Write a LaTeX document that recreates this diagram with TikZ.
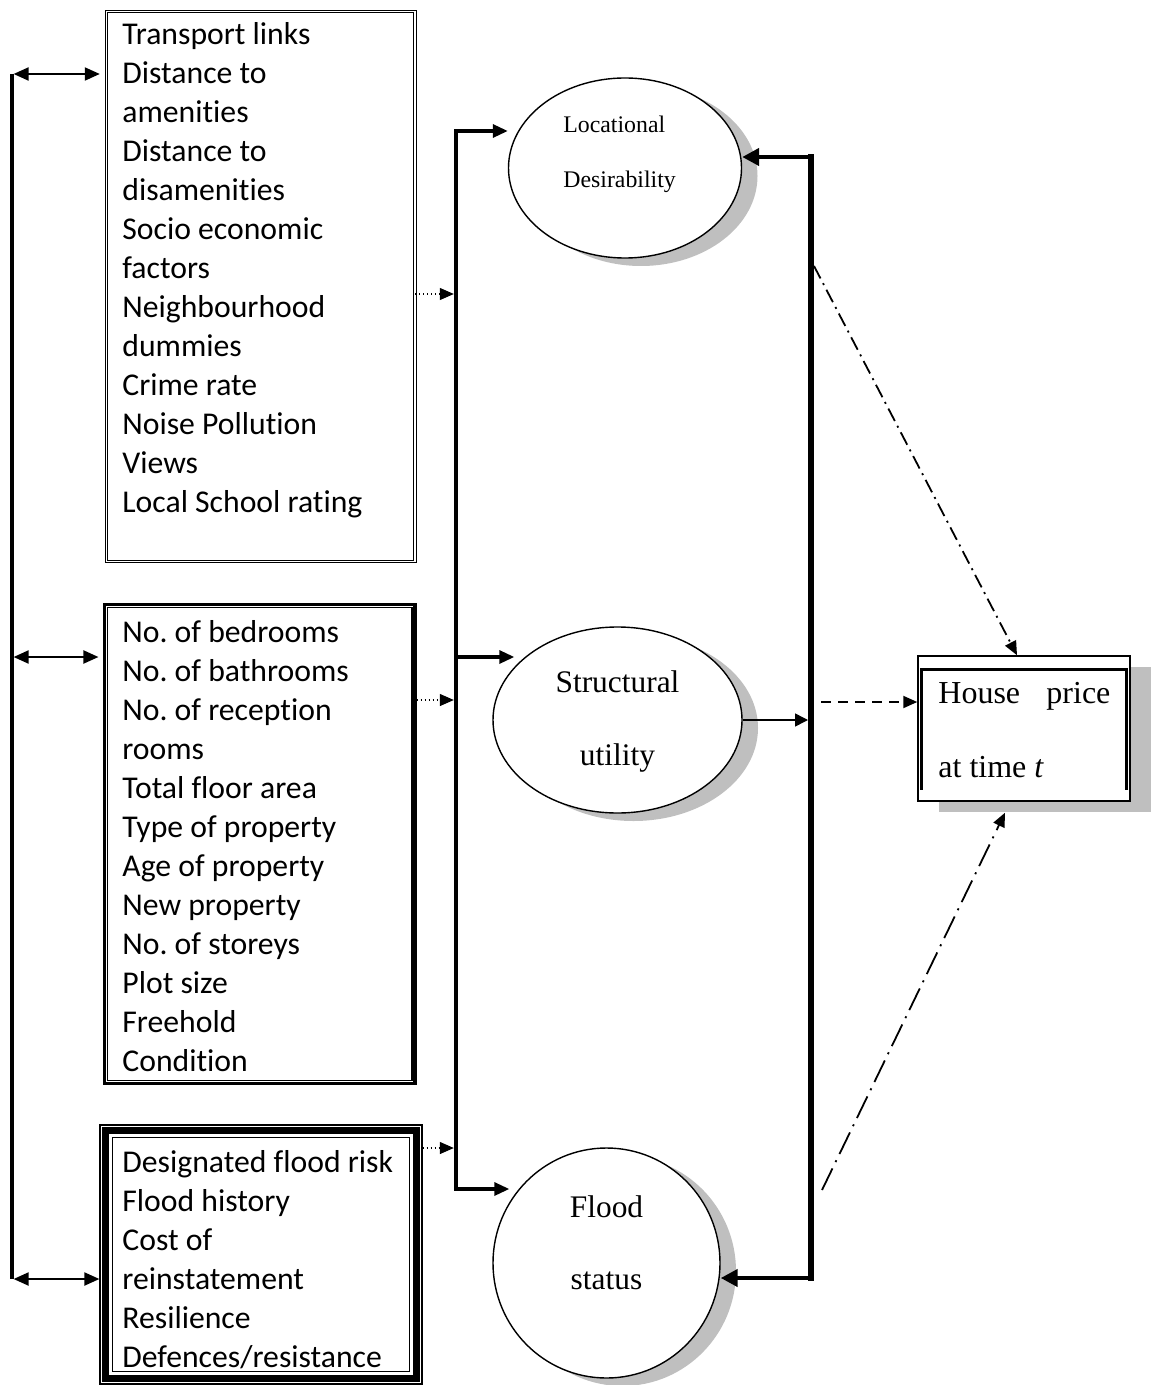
\documentclass[tikz,border=0pt]{standalone}
\usepackage{fontspec}
\setmainfont{Liberation Serif}
\newfontfamily\carlito[Ligatures={NoCommon}]{Carlito}
\usetikzlibrary{arrows.meta,shapes.geometric,shadows,calc}
\frenchspacing

\begin{document}
\begin{tikzpicture}[x=0.5pt, y=-0.5pt,
	listtext/.style={anchor=west, align=left, inner sep=0pt, font=\carlito\fontsize{15.85}{19.5}\selectfont},
	ovaltext/.style={align=center, inner sep=0pt, font=\fontsize{15.7}{18}\selectfont},
	oval/.style={ellipse, draw, line width=0.7pt, fill=white, inner sep=0pt,
		drop shadow={shadow xshift=8pt, shadow yshift=-4pt, fill=black!25, opacity=1}},
	twoway/.style={line width=1pt, {Triangle[length=7.5pt,width=6.5pt]}-{Triangle[length=7.5pt,width=6.5pt]}},
	feed/.style={line width=1.6pt, -{Triangle[length=7.5pt,width=6.5pt]}},
	backfeed/.style={line width=2.3pt, -{Triangle[length=8.5pt,width=8.5pt]}},
	dotfeed/.style={line width=0.6pt, dash pattern=on 0.6pt off 1.4pt, -{Triangle[length=7pt,width=6pt]}, shorten >=1.1pt},
	thinfeed/.style={line width=0.75pt, -{Triangle[length=6.5pt,width=6.5pt]}, shorten >=1.5pt}]
	
	\useasboundingbox (0,0) rectangle (1154,1385);
	
	\node[draw, double, double distance=0.8pt, line width=0.5pt, minimum width=154.2pt, minimum height=275pt, inner sep=0pt] (locbox) at (260.5,286.5) {};
	\node[listtext] (loctxt) at (122,270) {Transport links\\Distance to\\amenities\\Distance to\\disamenities\\Socio economic\\factors\\Neighbourhood\\dummies\\Crime rate\\Noise Pollution\\Views\\Local School rating};
	
	\node[draw, line width=1.65pt, minimum width=155.15pt, minimum height=239.5pt, inner sep=0pt] (strbox) at (259.85,844) {};
	\draw[line width=0.6pt] ($(strbox.north west)+(2.3pt,-2.3pt)$) rectangle ($(strbox.south east)+(-2.3pt,2.3pt)$);
	\node[listtext] (strtxt) at (122,846) {No. of bedrooms\\No. of bathrooms\\No. of reception\\rooms\\Total floor area\\Type of property\\Age of property\\New property\\No. of storeys\\Plot size\\Freehold\\Condition};
	
	\node[draw, line width=0.6pt, minimum width=161pt, minimum height=129.5pt, inner sep=0pt] (fldbox) at (261,1254.5) {};
	\draw[line width=3.2pt] ($(fldbox.north west)+(3.1pt,-3.1pt)$) rectangle ($(fldbox.south east)+(-3.1pt,3.1pt)$);
	\draw[line width=0.6pt] ($(fldbox.north west)+(6.6pt,-6.6pt)$) rectangle ($(fldbox.south east)+(-6.6pt,6.6pt)$);
	\node[listtext] (fldtxt) at (122,1259.5) {Designated flood risk\\Flood history\\Cost of\\reinstatement\\Resilience\\Defences/resistance};
	
	\node[oval, minimum width=116.5pt, minimum height=90pt] (locell) at (625,168) {};
	\node[anchor=west, align=left, inner sep=0pt, font=\fontsize{11.9}{13.8}\selectfont] (loclbl) at (563,154.5) {Locational\\[13.7pt]Desirability};
	\node[oval, minimum width=124.5pt, minimum height=93pt] (strell) at (617.5,720) {};
	\node[ovaltext] (strlbl) at (617.5,721.5) {Structural\\[18.5pt]utility};
	\node[oval, minimum width=113.5pt, minimum height=115pt] (fldell) at (606.5,1263) {};
	\node[ovaltext] (fldlbl) at (606.5,1243) {Flood\\[18pt]status};
	
	\node[draw, line width=0.75pt, fill=white, minimum width=106pt, minimum height=72.5pt, inner sep=0pt,
		drop shadow={shadow xshift=10.5pt, shadow yshift=-5.5pt, fill=black!25, opacity=1}] (hpbox) at (1024,728.5) {};
	\draw[line width=1.5pt] ($(hpbox.south west)+(2pt,6pt)$) |- ($(hpbox.north east)+(-2pt,-7pt)$) -- ($(hpbox.south east)+(-2pt,6pt)$);
	\node[anchor=west, align=left, inner sep=0pt, font=\fontsize{16}{18.5}\selectfont] (hptxt) at (938,730) {\makebox[86pt][s]{House price}\\[18.5pt]at time \textit{t}};
	
	\coordinate (ltop) at (12,74);
	\coordinate (lmid) at (12,657);
	\coordinate (lbot) at (12,1279);
	\draw[line width=1.6pt] (ltop) -- (lbot);
	\draw[twoway, shorten <=0.8pt, shorten >=3pt] (ltop) -- (ltop -| locbox.west);
	\draw[twoway, shorten <=0.8pt, shorten >=2.3pt] (lmid) -- (lmid -| strbox.west);
	\draw[twoway, shorten <=0.8pt] (lbot) -- (lbot -| fldbox.west);
	
	\coordinate (mtop) at (456,131);
	\coordinate (mmid) at (456,657);
	\coordinate (mbot) at (456,1189);
	\draw[line width=2.2pt, line cap=rect] (mtop) -- (mbot);
	\draw[feed] (mtop) -- (mtop -| locell.west);
	\draw[feed] (mmid) -- ($(mmid -| strell.west)+(11pt,0)$);
	\draw[feed] (mbot) -- ($(mbot -| fldell.west)+(8.5pt,0)$);
	
	\coordinate (mloc) at (456,294);
	\coordinate (mstr) at (456,700);
	\coordinate (mfld) at (456,1148);
	\draw[dotfeed] (mloc -| locbox.east) -- (mloc);
	\draw[dotfeed] (mstr -| strbox.east) -- (mstr);
	\draw[dotfeed] (mfld -| fldbox.east) -- (mfld);
	
	\coordinate (rtop) at (811,157);
	\coordinate (rbot) at (811,1278);
	\draw[line width=3pt, line cap=rect] (rtop) -- (rbot);
	\draw[backfeed] (rtop) -- (rtop -| locell.east);
	\draw[backfeed] (rbot) -- (rbot -| fldell.east);
	\draw[thinfeed] (strell.east) -- (strell.east -| rtop);
	
	\coordinate (dloc) at (814,266);
	\coordinate (dstr) at (821,702);
	\coordinate (dfld) at (822,1190);
	\draw[line width=0.9pt, dash pattern=on 7pt off 2.7pt on 1pt off 2.7pt, -{Triangle[length=7pt,width=6pt]}] (dloc) -- ($(hpbox.north)+(-3.5pt,0)$);
	\draw[line width=1pt, dash pattern=on 5pt off 3.5pt, -{Triangle[length=7pt,width=6pt]}] (dstr) -- (dstr -| hpbox.west);
	\draw[line width=0.9pt, dash pattern=on 12pt off 3.5pt on 1pt off 3.5pt, -{Triangle[length=7pt,width=6pt]}] (dfld) -- ($(hpbox.south)+(-9.5pt,-5.5pt)$);
	
\end{tikzpicture}
\end{document}
